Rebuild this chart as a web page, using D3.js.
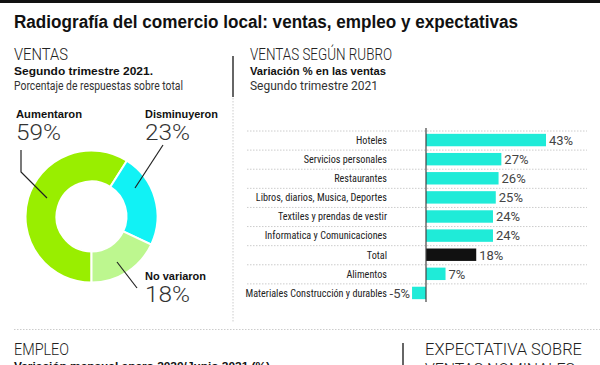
<!DOCTYPE html>
<html><head><meta charset="utf-8">
<script src="https://cdn.jsdelivr.net/npm/d3@7"></script>
<style>
html,body{margin:0;padding:0;background:#fff;}
svg{display:block;}
</style></head>
<body><svg id="c" width="600" height="365"></svg>
<script>
const donutLabels = ["Aumentaron", "Disminuyeron", "No variaron"];
const donutValues = [59, 23, 18];
const donutColors = ["#99ee00", "#11f2f5", "#bdf78f"];

const rubros = ["Hoteles", "Servicios personales", "Restaurantes", "Libros, diarios, Musica, Deportes",
  "Textiles y prendas de vestir", "Informatica y Comunicaciones", "Total", "Alimentos",
  "Materiales Construcción y durables"];
const rubroValues = [43, 27, 26, 25, 24, 24, 18, 7, -5];

const svg = d3.select("#c");
const NARROW = '"Liberation Sans Narrow","Arial Narrow","Roboto Condensed","Liberation Sans",sans-serif';
const SANS = 'Roboto,"Liberation Sans",sans-serif';
const BOLD = '"Liberation Sans",Arial,sans-serif';

// top black rule
svg.append("rect").attr("x",0).attr("y",0).attr("width",600).attr("height",3).attr("fill","#111");

function txt(x, y, s, o) {
  const t = svg.append("text").attr("x", x).attr("y", y).text(s)
    .attr("font-family", o.family || SANS)
    .attr("font-size", o.size)
    .attr("font-weight", o.weight || "normal")
    .attr("fill", o.fill || "#222");
  if (o.len) t.attr("textLength", o.len).attr("lengthAdjust", "spacingAndGlyphs");
  if (o.anchor) t.attr("text-anchor", o.anchor);
  return t;
}

// Title
txt(14, 28, "Radiografía del comercio local: ventas, empleo y expectativas", {size:18, weight:"bold", fill:"#111", len:504, family:BOLD});

// Section headers
txt(14, 60, "VENTAS", {size:17, weight:300, fill:"#222", len:54});
txt(14, 75, "Segundo trimestre 2021.", {size:11.5, weight:"bold", fill:"#111", len:139, family:BOLD});
txt(14, 90, "Porcentaje de respuestas sobre total", {size:12, fill:"#333", len:169});

txt(250, 60, "VENTAS SEGÚN RUBRO", {size:17, weight:300, fill:"#222", len:142});
txt(250, 75, "Variación % en las ventas", {size:11.5, weight:"bold", fill:"#111", len:136, family:BOLD});
txt(250, 90, "Segundo trimestre 2021", {size:12, fill:"#333", len:128});

// divider lines
svg.append("line").attr("x1",233).attr("x2",233).attr("y1",56).attr("y2",97).attr("stroke","#333").attr("stroke-width",1.5);
svg.append("line").attr("x1",233).attr("x2",233).attr("y1",98).attr("y2",322).attr("stroke","#ccc").attr("stroke-width",1).attr("stroke-dasharray","1.5,1.5");
svg.append("line").attr("x1",14).attr("x2",600).attr("y1",329.5).attr("y2",329.5).attr("stroke","#ccc").attr("stroke-width",1).attr("stroke-dasharray","1.5,1.5");

// Donut
const cx = 91.5, cy = 216.5;
const pie = d3.pie().sort(null).startAngle(Math.PI).endAngle(3*Math.PI);
const arc = d3.arc().innerRadius(35).outerRadius(66);
const g = svg.append("g").attr("transform", `translate(${cx},${cy})`);
g.selectAll("path").data(pie(donutValues)).join("path")
  .attr("d", arc).attr("fill", (d,i) => donutColors[i])
  .attr("stroke", "#fff").attr("stroke-width", 2);

// donut labels
const lab = [
  {x:16, y:118, nx:16, ny:140, lw:66, line:[[21,150],[21,172],[47,198]]},
  {x:145, y:118, nx:145, ny:140, lw:73, line:[[163,145],[135,188]]},
  {x:145, y:280, nx:145, ny:302, lw:61, line:[[117,262],[137,288]]}
];
lab.forEach((l,i) => {
  txt(l.x, l.y, donutLabels[i], {size:11, weight:"bold", fill:"#111", len:l.lw, family:BOLD});
  txt(l.nx, l.ny, donutValues[i] + "%", {size:22, weight:300, fill:"#333", len:45});
  svg.append("path").attr("d", d3.line()(l.line)).attr("fill","none").attr("stroke","#222").attr("stroke-width",1.2);
});

// Bar chart
const x = d3.scaleLinear().domain([0, 43]).range([426, 546]);
const y = d3.scaleBand().domain(rubros).range([130.5, 302.5]).paddingInner(0.35).paddingOuter(0.175);
const step = y.step();

// grid lines at top of each band
svg.append("g").selectAll("line").data(rubros).join("line")
  .attr("x1", 247).attr("x2", 587)
  .attr("y1", d => y(d) - y.paddingOuter()*step + 0.5)
  .attr("y2", d => y(d) - y.paddingOuter()*step + 0.5)
  .attr("stroke", "#ccc").attr("stroke-dasharray", "1.5,1.5");

svg.append("g").selectAll("rect").data(rubros).join("rect")
  .attr("x", (d,i) => x(Math.min(0, rubroValues[i])))
  .attr("width", (d,i) => Math.abs(x(rubroValues[i]) - x(0)))
  .attr("y", d => y(d)).attr("height", y.bandwidth())
  .attr("fill", d => d === "Total" ? "#111" : "#1febd8");

// zero line
svg.append("line").attr("x1", x(0)).attr("x2", x(0)).attr("y1", 128).attr("y2", 302).attr("stroke", "#444").attr("stroke-width", 1.2);

// category labels
svg.append("g").selectAll("text").data(rubros).join("text")
  .attr("x", 387).attr("y", d => y(d) + y.bandwidth()/2 + 3.8)
  .attr("text-anchor", "end").attr("font-family", NARROW).attr("font-size", 10.2).attr("fill", "#222")
  .text(d => d);

// value labels
svg.append("g").selectAll("text").data(rubros).join("text")
  .attr("x", (d,i) => rubroValues[i] >= 0 ? x(rubroValues[i]) + 3 : x(rubroValues[i]) - 2)
  .attr("y", d => y(d) + y.bandwidth()/2 + 4.8)
  .attr("text-anchor", (d,i) => rubroValues[i] >= 0 ? "start" : "end")
  .attr("font-family", SANS).attr("font-size", 13).attr("fill", "#444")
  .text((d,i) => rubroValues[i] + "%");

// Bottom sections
txt(14, 355, "EMPLEO", {size:17, weight:300, fill:"#222", len:55});
txt(14, 370, "Variación mensual enero 2020/Junio 2021 (%)", {size:11.5, weight:"bold", fill:"#111", len:256, family:BOLD});
svg.append("line").attr("x1",403).attr("x2",403).attr("y1",343).attr("y2",365).attr("stroke","#333").attr("stroke-width",1.5);
txt(425, 355, "EXPECTATIVA SOBRE", {size:17, weight:300, fill:"#222", len:157});
txt(425, 375, "VENTAS NOMINALES", {size:17, weight:300, fill:"#222", len:150});
</script></body></html>
